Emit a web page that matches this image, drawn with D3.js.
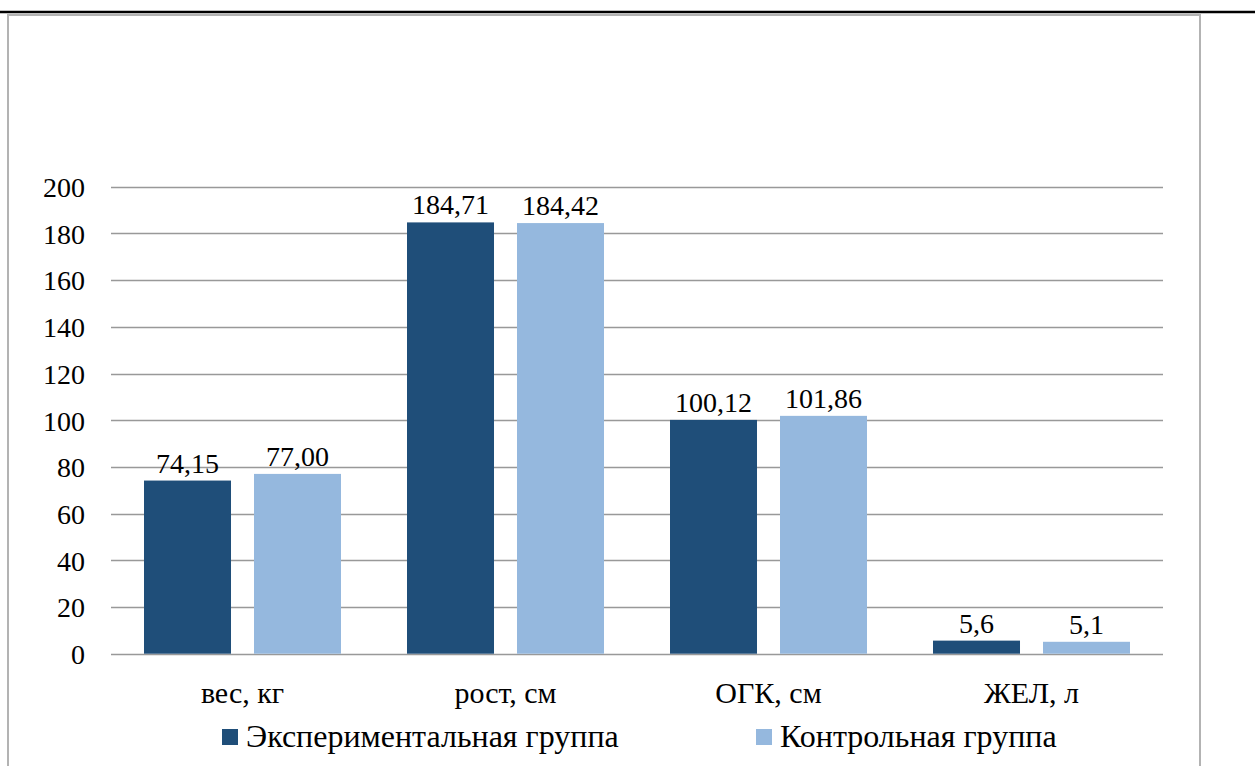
<!DOCTYPE html>
<html><head><meta charset="utf-8">
<script src="https://cdn.jsdelivr.net/npm/d3@7"></script>
<style>html,body{margin:0;padding:0;background:#fff;overflow:hidden}
svg text{font-family:"Liberation Serif","Tinos","Times New Roman","DejaVu Serif",serif;}</style>
</head><body>
<script>
const categories = ["вес, кг", "рост, см", "ОГК, см", "ЖЕЛ, л"];
const seriesNames = ["Экспериментальная группа", "Контрольная группа"];
const experimental = [74.15, 184.71, 100.12, 5.6];
const control = [77.00, 184.42, 101.86, 5.1];
const experimentalLabels = ["74,15", "184,71", "100,12", "5,6"];
const controlLabels = ["77,00", "184,42", "101,86", "5,1"];
const yTicks = [0, 20, 40, 60, 80, 100, 120, 140, 160, 180, 200];
const colors = ["#1f4e79", "#95b8de"];

const W = 1255, H = 766;
const svg = d3.select("body").append("svg").attr("width", W).attr("height", H);

// page line and chart frame
svg.append("line").attr("x1", 0).attr("x2", W).attr("y1", 12).attr("y2", 12)
  .attr("stroke", "#000").attr("stroke-width", 2.5);
svg.append("rect").attr("x", 8).attr("y", 15).attr("width", 1192).attr("height", 780)
  .attr("fill", "none").attr("stroke", "#b3b3b3").attr("stroke-width", 2);

const x = d3.scaleBand().domain(categories).range([111, 1163]).padding(0);
const x1 = d3.scaleBand().domain(seriesNames).range([0, x.bandwidth()])
  .paddingInner(0.209).paddingOuter(0.3);
const y = d3.scaleLinear().domain([0, 200]).range([653.7, 186.7]);

// gridlines
svg.append("g").selectAll("line").data(yTicks).join("line")
  .attr("x1", 111).attr("x2", 1163)
  .attr("y1", d => Math.round(y(d)) + 0.5).attr("y2", d => Math.round(y(d)) + 0.5)
  .attr("stroke", "#999").attr("stroke-width", 1.3);

// y axis labels
const yAxis = d3.axisLeft(y).tickValues(yTicks).tickSize(0).tickPadding(0);
const gy = svg.append("g").attr("transform", "translate(85,0)").call(yAxis);
gy.attr("font-family", null);
gy.select(".domain").remove();
gy.selectAll("text").attr("font-size", 28).attr("fill", "#000").attr("dy", "0.35em");

const data = categories.map((c, i) => ({
  cat: c,
  vals: [
    {s: seriesNames[0], v: experimental[i], lab: experimentalLabels[i], c: colors[0]},
    {s: seriesNames[1], v: control[i], lab: controlLabels[i], c: colors[1]}
  ]
}));

const groups = svg.append("g").selectAll("g").data(data).join("g")
  .attr("transform", d => `translate(${x(d.cat)},0)`);
groups.selectAll("rect").data(d => d.vals).join("rect")
  .attr("x", d => x1(d.s)).attr("width", x1.bandwidth())
  .attr("y", d => y(d.v)).attr("height", d => y(0) - y(d.v))
  .attr("fill", d => d.c);
groups.selectAll("text").data(d => d.vals).join("text")
  .attr("x", d => x1(d.s) + x1.bandwidth() / 2)
  .attr("y", d => y(d.v) - 8)
  .attr("text-anchor", "middle").attr("font-size", 28)
  .attr("fill", "#000").text(d => d.lab);

// x axis labels
const xAxis = d3.axisBottom(x).tickSize(0).tickPadding(0);
const gx = svg.append("g").attr("transform", "translate(0,703)").call(xAxis);
gx.attr("font-family", null);
gx.select(".domain").remove();
gx.selectAll("text").attr("font-size", 30).attr("fill", "#000").attr("dy", 0);

// legend
const legendX = [222, 756];
const leg = svg.append("g").selectAll("g").data(seriesNames).join("g")
  .attr("transform", (d, i) => `translate(${legendX[i]},729)`);
leg.append("rect").attr("width", 16).attr("height", 16).attr("fill", (d, i) => colors[i]);
leg.append("text").attr("x", 24).attr("y", 18).attr("font-size", 32)
  .attr("fill", "#000").text(d => d);
</script>
</body></html>
